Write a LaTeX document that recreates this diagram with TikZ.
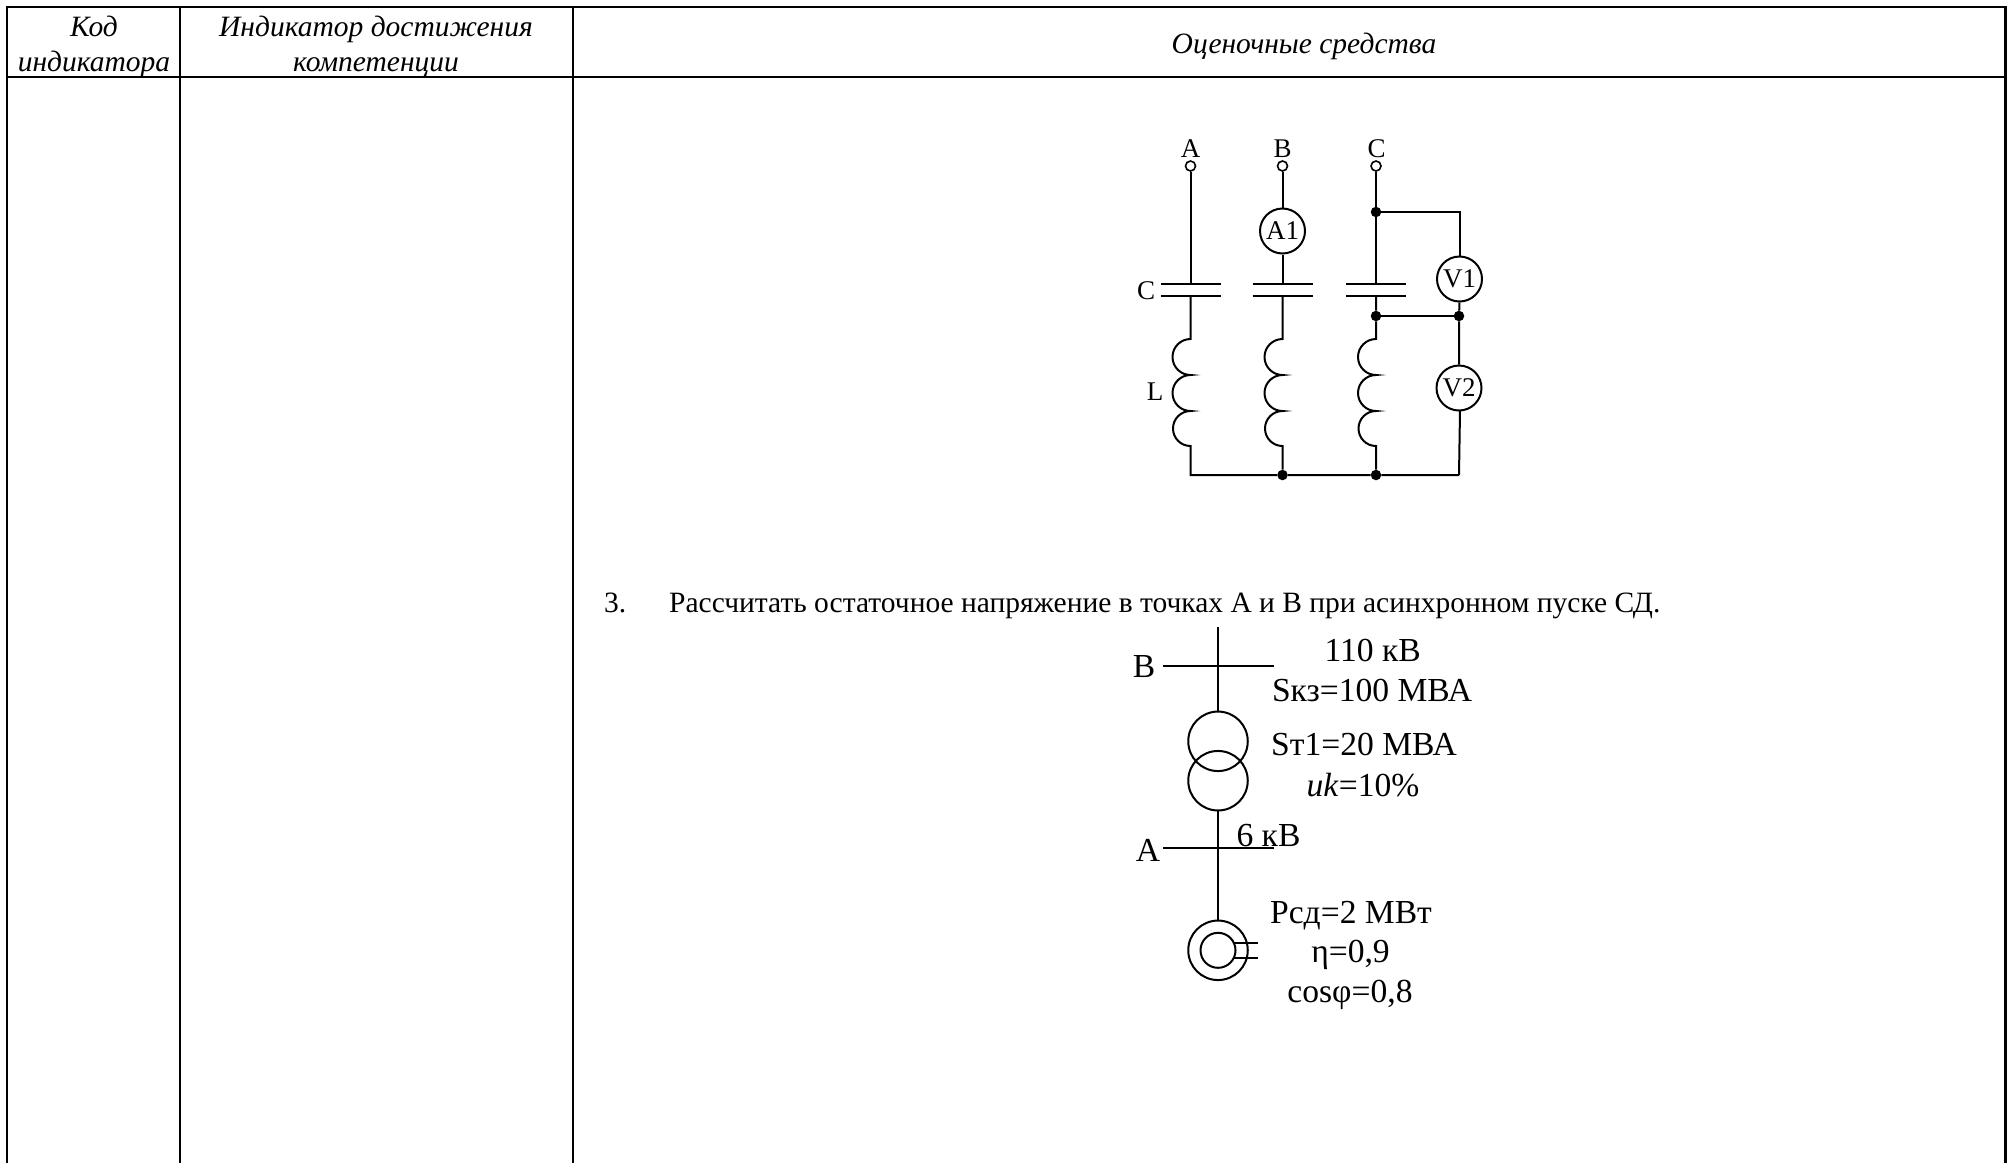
\documentclass[tikz,border=0pt]{standalone}
\usepackage{fontspec}
\setmainfont{Liberation Serif}
\newcommand{\fsz}[1]{\fontsize{#1}{#1}\selectfont}
\tikzset{
 wire/.style={line width=2pt,black},
 rule/.style={line width=2.4pt,black},
 term/.style={circle,draw,fill=white,line width=1.6pt,minimum size=10pt,inner sep=0pt},
 junction/.style={circle,fill=black,minimum size=10.5pt,inner sep=0pt},
 meter/.style={circle,draw,line width=2pt,minimum size=45pt,inner sep=0pt,font=\fsz{27}},
 big/.style={circle,draw,line width=2pt,minimum size=59.5pt,inner sep=0pt},
 lbl/.style={inner sep=0pt,anchor=base,font=\fsz{27}},
 val/.style={inner sep=0pt,anchor=base,font=\fsz{33.6}},
 head/.style={inner sep=0pt,anchor=base,font=\fsz{29.5}\itshape},
 body/.style={inner sep=0pt,anchor=base west,font=\fsz{29.5}},
}
\newcommand{\coilarcs}{arc[start angle=270,end angle=90,radius=18] arc[start angle=270,end angle=90,radius=18] arc[start angle=270,end angle=90,radius=17.5]}
\begin{document}
\begin{tikzpicture}[x=1pt,y=-1pt]
\useasboundingbox (0,0) rectangle (2013,1163);
\fill[white] (0,0) rectangle (2013,1163);
% table
\coordinate (tl) at (7,7); \coordinate (tr) at (2005.5,7);
\coordinate (hl) at (7,77); \coordinate (hr) at (2005.5,77);
\coordinate (bl) at (7,1163); \coordinate (br) at (2005.5,1163);
\coordinate (c1t) at (180,7); \coordinate (c1b) at (180,1163);
\coordinate (c2t) at (573,7); \coordinate (c2b) at (573,1163);
\draw[rule] (bl)--(tl)--(tr)--(br);
\draw[rule] (hl)--(hr);
\draw[rule] (c1t)--(c1b);
\draw[rule] (c2t)--(c2b);
\node[head] (h1a) at (94,36) {Код};
\node[head] (h1b) at (94,71) {индикатора};
\node[head] (h2a) at (376,36) {Индикатор достижения};
\node[head] (h2b) at (376,71) {компетенции};
\node[head] (h3) at (1304,53) {Оценочные средства};
% top circuit
\node[term] (ta) at (1190.5,166) {};
\node[term] (tb) at (1282.5,166) {};
\node[term] (tc) at (1376,166) {};
\node[lbl] (la) at (1190.5,157) {A};
\node[lbl] (lb) at (1282.5,157) {B};
\node[lbl] (lc) at (1376.5,157) {C};
\node[meter] (a1) at (1282.5,231) {A1};
\node[meter] (v1) at (1459.5,279) {V1};
\node[meter] (v2) at (1459,388) {V2};
\node[junction] (j1) at (1376,212) {};
\node[junction] (j2) at (1376,316) {};
\node[junction] (j3) at (1459,316) {};
\node[junction] (j4) at (1282.5,475) {};
\node[junction] (j5) at (1376,475) {};
\coordinate (k1) at (1460,212);
\coordinate (k2) at (1459,475);
\coordinate (k3) at (1190.5,475);
\node[lbl] (lcc) at (1146,299) {C};
\node[lbl] (ll) at (1155,400) {L};
% branch A
\draw[wire] (ta)--(1190.5,284);
\draw[wire] (1161,284)--(1221,284) (1161,296)--(1221,296);
\draw[wire] (1190.5,296)--(1190.5,339) \coilarcs--(k3)--(j4)--(j5)--(k2);
% branch B
\draw[wire] (tb)--(a1) (a1)--(1282.5,284);
\draw[wire] (1252.5,284)--(1312.5,284) (1252.5,296)--(1312.5,296);
\draw[wire] (1282.5,296)--(1282.5,339) \coilarcs--(j4);
% branch C
\draw[wire] (tc)--(1376,284);
\draw[wire] (1346,284)--(1406,284) (1346,296)--(1406,296);
\draw[wire] (1376,296)--(j2)--(1376,339) \coilarcs--(j5);
% voltmeters
\draw[wire] (j1)--(k1)--(k1|-v1.north);
\draw[wire] (j2)--(j3);
\draw[wire] (v1.south)--(j3)--(v2.north);
\draw[wire] (1460,410.5)--(k2);
% task text
\node[body] (n3) at (604,612) {3.};
\node[body] (t3) at (669,612) {Рассчитать остаточное напряжение в точках А и В при асинхронном пуске СД.};
% bottom circuit
\coordinate (topend) at (1218,627);
\node[big] (tr1) at (1218,741.3) {};
\node[big] (tr2) at (1218,780.7) {};
\node[big] (m) at (1218,950.3) {};
\node[circle,draw,line width=2pt,minimum size=35pt,inner sep=0pt] (mi) at (1218,950.3) {};
\draw[wire] (topend)--(tr1.north);
\draw[wire] (tr2.south)--(m.north);
\coordinate (bbl) at (1163,666); \coordinate (bbr) at (1274,666);
\coordinate (bal) at (1163,848.3); \coordinate (bar) at (1274,848.3);
\draw[wire] (bbl)--(bbr);
\draw[wire] (bal)--(bar);
\draw[wire] (1234,942.7)--(1257.7,942.7) (1234,958)--(1257.7,958);
\node[val] (vb) at (1144,677) {В};
\node[val] (va) at (1148,861) {А};
\node[val] (v110) at (1372.7,661) {110 кВ};
\node[val] (vsk) at (1372,701) {Sкз=100 МВА};
\node[val] (vst) at (1364,755) {Sт1=20 МВА};
\node[val] (vuk) at (1363,796) {\textit{uk}=10\%};
\node[val] (v6) at (1268.5,846) {6 кВ};
\node[val] (vp) at (1351,923) {Pсд=2 МВт};
\node[val] (ve) at (1350.5,962) {η=0,9};
\node[val] (vc) at (1350,1002) {cosφ=0,8};
\end{tikzpicture}
\end{document}
